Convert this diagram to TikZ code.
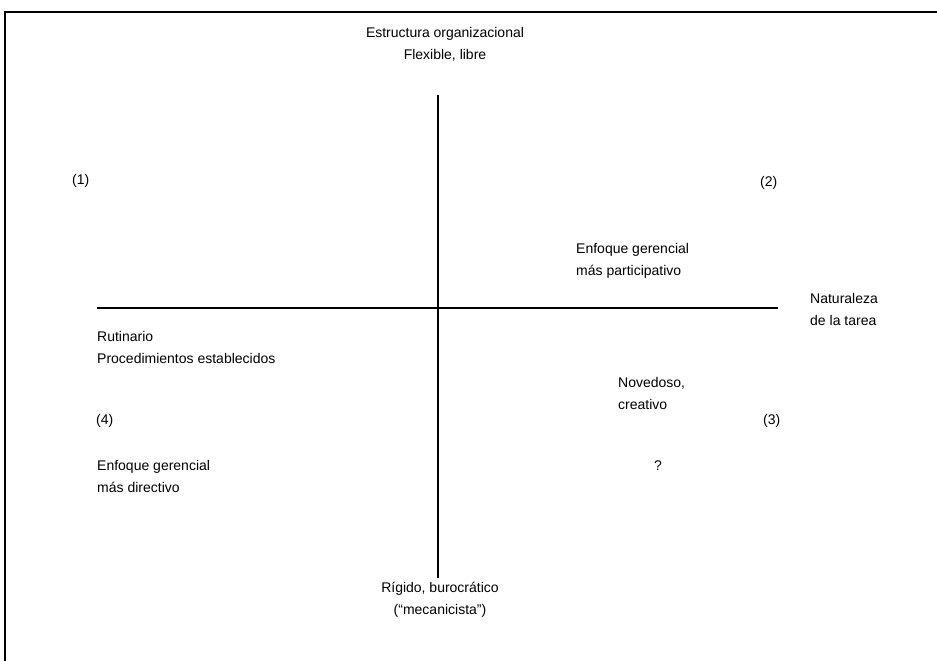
\documentclass[tikz,border=0pt]{standalone}
\usepackage{fontspec}
\setmainfont{Liberation Sans}
\begin{document}
\begin{tikzpicture}[x=1pt,y=-1pt,
  lbl/.style={inner sep=0pt, font=\fontsize{14}{22}\selectfont, align=left},
  lblc/.style={inner sep=0pt, font=\fontsize{14}{22}\selectfont, align=center},
  axis/.style={line width=2.4pt},
  frame/.style={line width=2.2pt}]
\useasboundingbox (0,0) rectangle (937,661);
% frame
\coordinate (fbl) at (5,661);
\coordinate (ftl) at (5,12);
\coordinate (ftr) at (937,12);
\draw[frame] (fbl) -- (ftl) -- (ftr);
% axes
\coordinate (vtop) at (438,95);
\coordinate (vbot) at (438,578);
\coordinate (hleft) at (97,308);
\coordinate (hright) at (778,308);
\draw[axis] (vtop) -- (vbot);
\draw[axis] (hleft) -- (hright);
% texts
\node[lblc] (top) at (445,44) {Estructura organizacional\\Flexible, libre};
\node[lbl, anchor=west] (q1) at (72,181) {(1)};
\node[lbl, anchor=west] (q2) at (760,183) {(2)};
\node[lbl, anchor=west] (ep) at (576,261) {Enfoque gerencial\\más participativo};
\node[lbl, anchor=west] (nat) at (810,309) {Naturaleza\\de la tarea};
\node[lbl, anchor=west] (rut) at (97,347) {Rutinario\\Procedimientos establecidos};
\node[lbl, anchor=west] (q4) at (96,421) {(4)};
\node[lbl, anchor=west] (ed) at (97,476) {Enfoque gerencial\\más directivo};
\node[lbl, anchor=west] (nov) at (618,393) {Novedoso,\\creativo};
\node[lbl, anchor=west] (q3) at (763,421) {(3)};
\node[lbl] (qm) at (658,466) {?};
\node[lblc] (bot) at (440,600) {Rígido, burocrático\\(``mecanicista'')};
\end{tikzpicture}
\end{document}
